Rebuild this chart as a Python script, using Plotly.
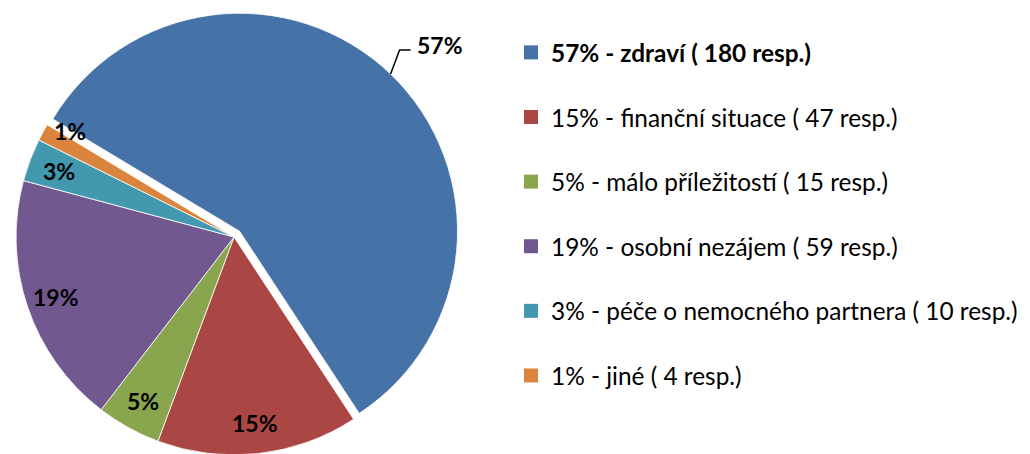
import math
import plotly.graph_objects as go

categories = ["zdraví", "finanční situace", "málo příležitostí", "osobní nezájem",
              "péče o nemocného partnera", "jiné"]
respondents = [180, 47, 15, 59, 10, 4]
colors = ["#4572A7", "#AA4643", "#89A54E", "#71588F", "#4198AF", "#DB843D"]
pulls = [0.037, 0, 0, 0, 0, 0]

total = sum(respondents)
pcts = [round(v * 100 / total) for v in respondents]
legend_labels = [f"{p}% - {c} ( {v} resp.)" for p, c, v in zip(pcts, categories, respondents)]
legend_labels[0] = f"<b>{legend_labels[0]}</b>"

FONT = "Lato"
W, H = 1030, 462
M_T, M_B, M_L, M_R = 2, 6, 0, 0
PW, PH = W - M_L - M_R, H - M_T - M_B
ROTATION = -59
BOX_X0, BOX_X1 = 0, 452
dom_x = [BOX_X0 / PW, BOX_X1 / PW]
dom_y = [0, 1]

fig = go.Figure()
fig.add_trace(go.Pie(
    labels=categories,
    values=respondents,
    sort=False,
    direction="clockwise",
    rotation=ROTATION,
    pull=pulls,
    marker=dict(colors=colors, line=dict(color="white", width=0.8)),
    textinfo="none",
    domain=dict(x=dom_x, y=dom_y),
    showlegend=False,
    hoverinfo="label+value+percent",
))

# data labels, placed from the pie geometry plotly uses
box_w = (dom_x[1] - dom_x[0]) * PW
box_h = (dom_y[1] - dom_y[0]) * PH
r = min(box_w, box_h) / (2 + 2 * max(pulls))
cx = M_L + PW * (dom_x[0] + dom_x[1]) / 2
cy = M_T + PH * (1 - (dom_y[0] + dom_y[1]) / 2)

def to_paper(px, py):
    return (px - M_L) / PW, 1 - (py - M_T) / PH

LABEL_FONT = dict(family=FONT, size=23, color="black")
label_yanchor = ["middle", "middle", "middle", "middle", "middle", "bottom"]
angle = ROTATION
for i, (v, p) in enumerate(zip(respondents, pcts)):
    span = v / total * 360
    mid = math.radians(angle + span / 2)
    angle += span
    sx, sy = math.sin(mid), -math.cos(mid)
    ox, oy = cx + pulls[i] * r * sx, cy + pulls[i] * r * sy
    if i == 0:
        ax_, ay_ = ox + r * sx, oy + r * sy
        p0 = to_paper(ax_, ay_)
        p1 = to_paper(ax_ + 9, ay_ - 24)
        p2 = to_paper(ax_ + 20, ay_ - 24)
        fig.add_shape(
            type="path", xref="paper", yref="paper",
            path=f"M {p0[0]} {p0[1]} L {p1[0]} {p1[1]} L {p2[0]} {p2[1]}",
            line=dict(color="black", width=1.5),
        )
        tx, ty = to_paper(ax_ + 24, ay_ - 29)
        fig.add_annotation(
            x=tx, y=ty, xref="paper", yref="paper",
            text=f"<b>{p}%</b>", showarrow=False,
            xanchor="left", yanchor="middle", font=LABEL_FONT,
        )
    else:
        f = 0.86
        tx, ty = to_paper(ox + f * r * sx, oy + f * r * sy)
        fig.add_annotation(
            x=tx, y=ty, xref="paper", yref="paper",
            text=f"<b>{p}%</b>", showarrow=False,
            xanchor="center", yanchor=label_yanchor[i], font=LABEL_FONT,
        )

for lab, col in zip(legend_labels, colors):
    fig.add_trace(go.Scatter(
        x=[None], y=[None], mode="markers", name=lab,
        marker=dict(symbol="square", size=14, color=col),
        legendgroup=lab, showlegend=True, hoverinfo="skip",
    ))

fig.update_layout(
    width=W, height=H,
    margin=dict(l=M_L, r=M_R, t=M_T, b=M_B),
    paper_bgcolor="white", plot_bgcolor="white",
    xaxis=dict(visible=False), yaxis=dict(visible=False),
    font=dict(family=FONT, size=24.4, color="black"),
    legend=dict(
        x=503 / PW, xanchor="left", xref="paper",
        y=1 - 20 / PH, yanchor="top", yref="paper",
        tracegroupgap=29.9,
        font=dict(family=FONT, size=24.4, color="black"),
        bgcolor="rgba(0,0,0,0)",
    ),
)

fig.write_html("out.html")
